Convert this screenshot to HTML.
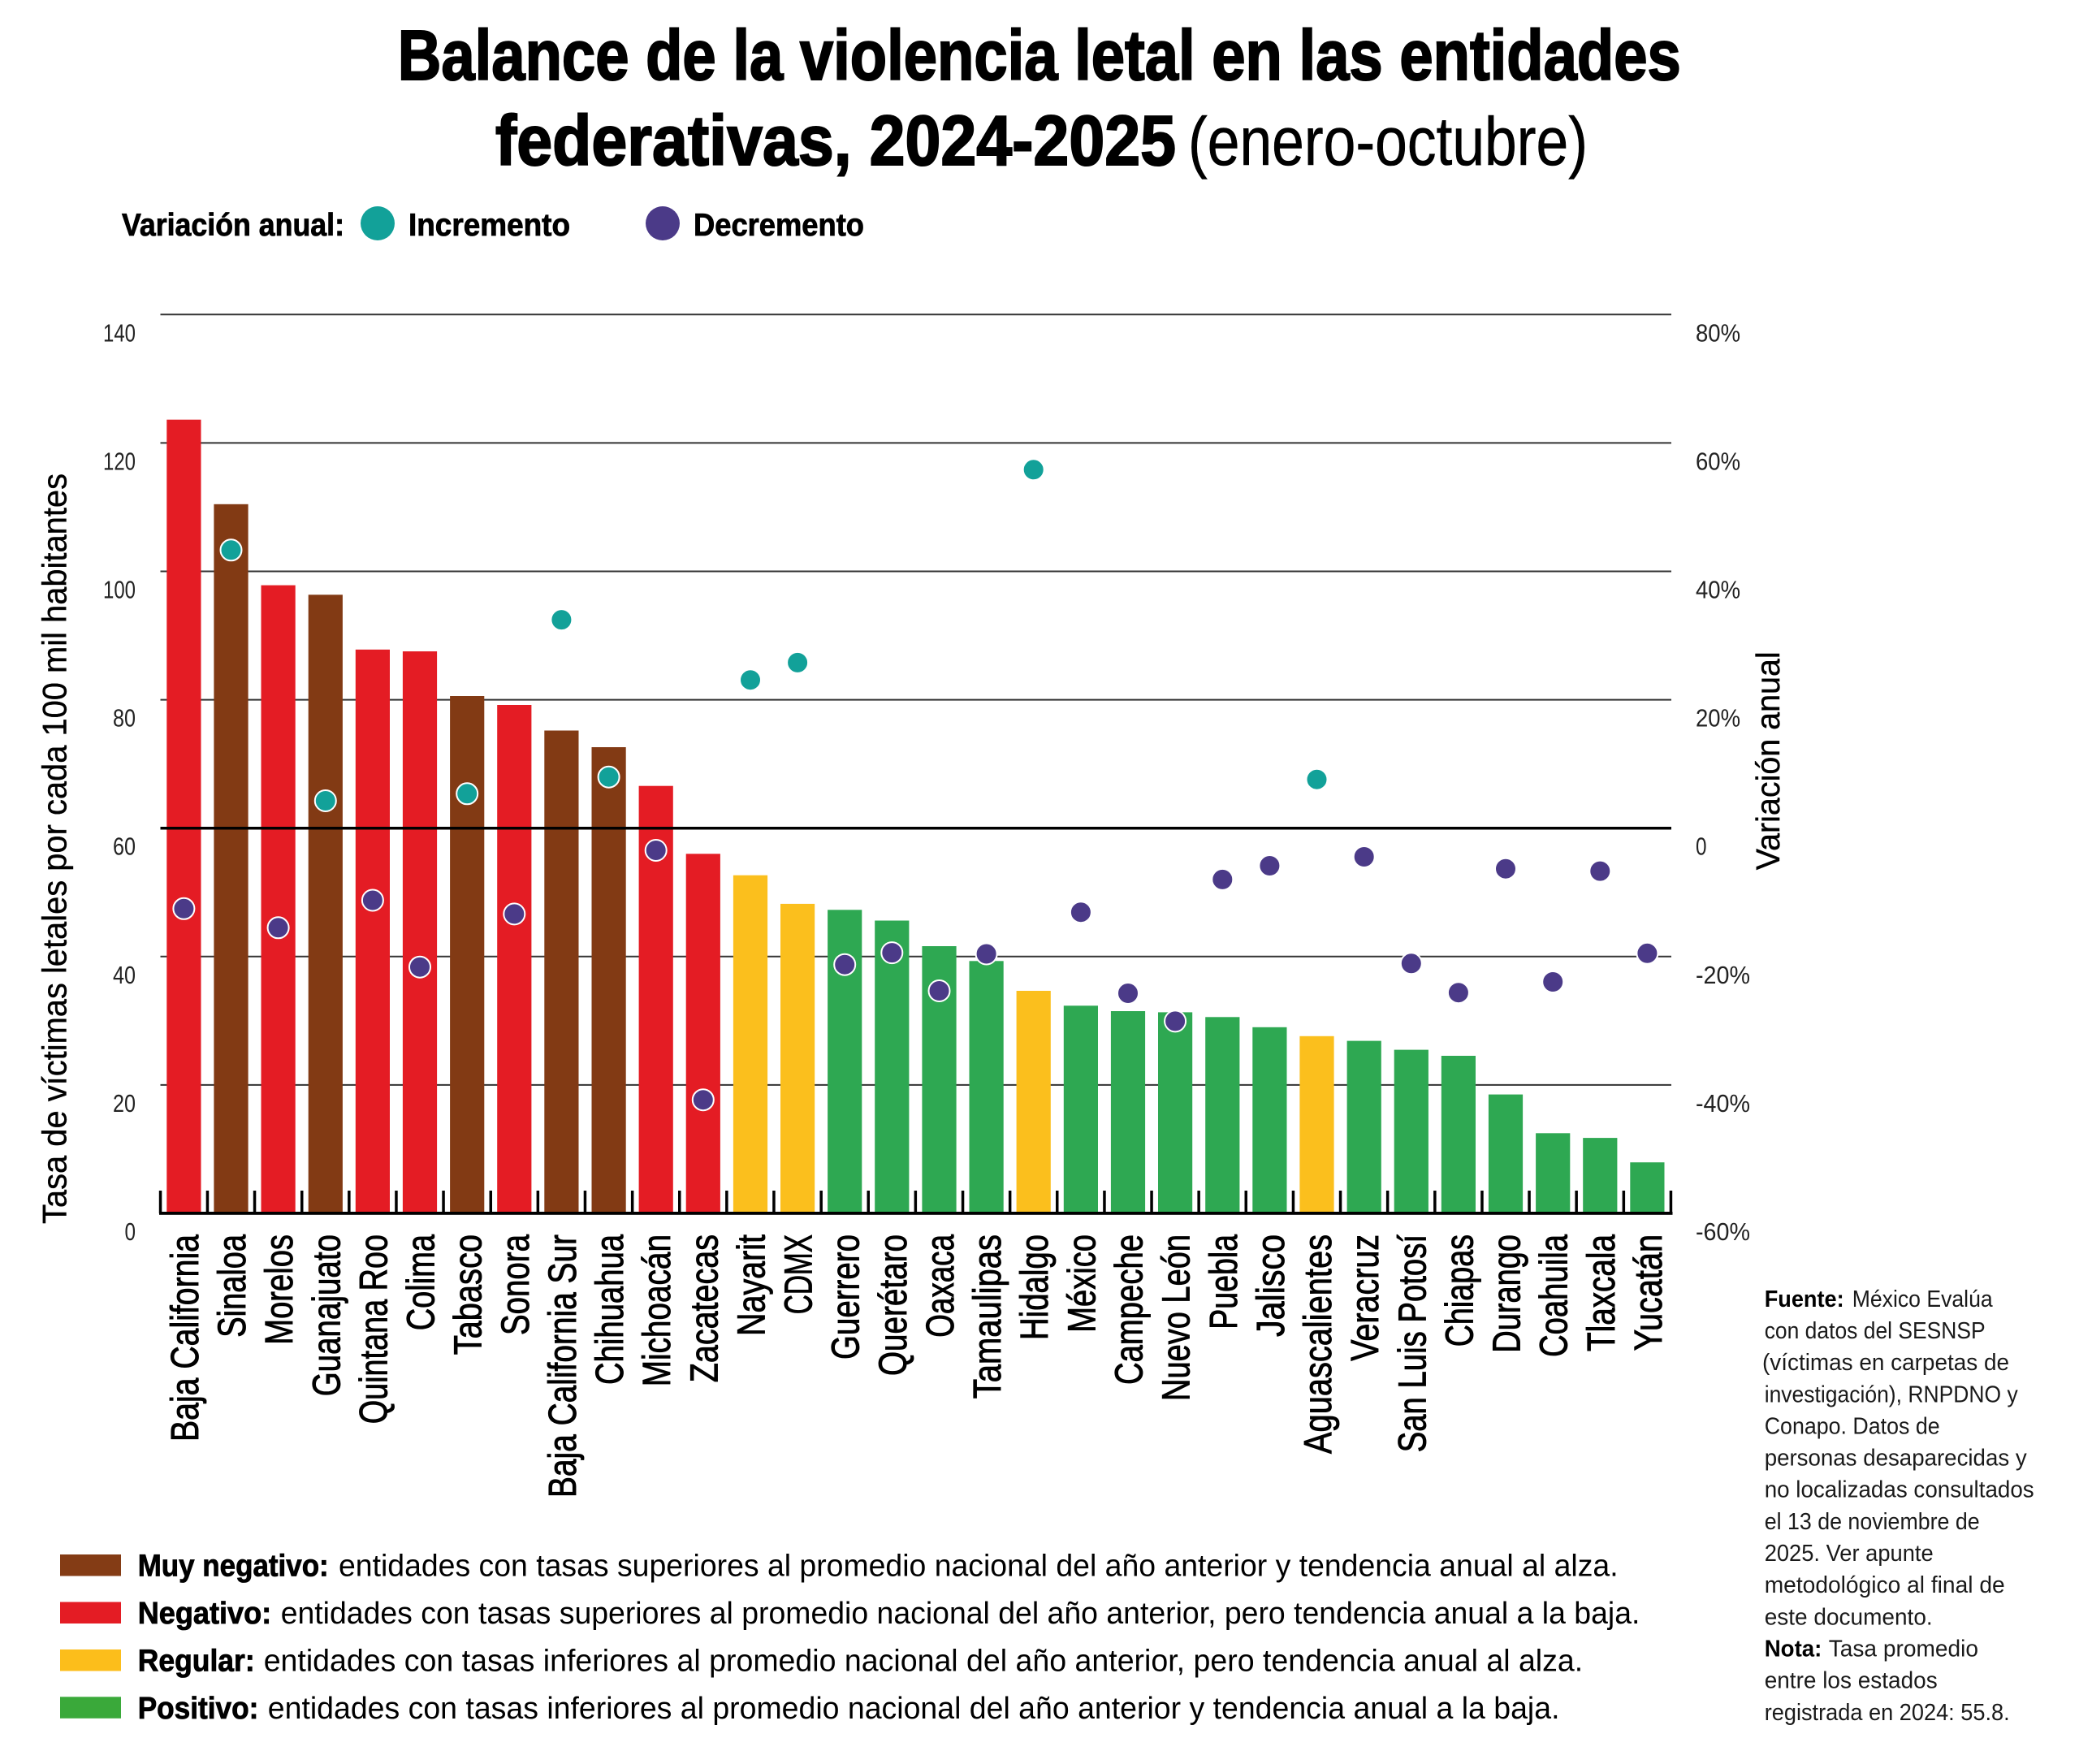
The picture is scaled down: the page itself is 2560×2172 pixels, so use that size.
<!DOCTYPE html>
<html>
<head>
<meta charset="utf-8">
<style>
  html, body { margin:0; padding:0; background:#fff; }
  body { width:2560px; height:2172px; overflow:hidden; }
  svg { display:block; }
  text { font-family: "Liberation Sans", "DejaVu Sans", sans-serif; }
</style>
</head>
<body>
<svg xmlns="http://www.w3.org/2000/svg" width="2560" height="2172" viewBox="0 0 2560 2172">
  <rect x="0" y="0" width="2560" height="2172" fill="#ffffff"/>

  <!-- Title -->
  <text x="489.8" y="98" font-size="87" font-weight="bold" fill="#000" stroke="#000" stroke-width="2" textLength="1580" lengthAdjust="spacingAndGlyphs">Balance de la violencia letal en las entidades</text>
  <text x="610" y="203" font-size="87" font-weight="bold" fill="#000" stroke="#000" stroke-width="2" textLength="838" lengthAdjust="spacingAndGlyphs">federativas, 2024-2025</text>
  <text x="1463" y="203" font-size="84" fill="#000" stroke="#000" stroke-width="0.6" textLength="492" lengthAdjust="spacingAndGlyphs">(enero-octubre)</text>

  <!-- Top legend -->
  <text x="150" y="290" font-size="39" font-weight="bold" fill="#000" stroke="#000" stroke-width="0.8" textLength="274" lengthAdjust="spacingAndGlyphs">Variación anual:</text>
  <circle cx="465" cy="275" r="21" fill="#12A199"/>
  <text x="503" y="290" font-size="39" font-weight="bold" fill="#000" stroke="#000" stroke-width="0.8" textLength="199" lengthAdjust="spacingAndGlyphs">Incremento</text>
  <circle cx="816" cy="275" r="21" fill="#4B3A88"/>
  <text x="854" y="290" font-size="39" font-weight="bold" fill="#000" stroke="#000" stroke-width="0.8" textLength="210" lengthAdjust="spacingAndGlyphs">Decremento</text>

  <!-- Gridlines (behind bars) -->
  <g stroke="#333" stroke-width="2">
    <line x1="197.5" y1="387.3" x2="2058" y2="387.3"/>
    <line x1="197.5" y1="545.4" x2="2058" y2="545.4"/>
    <line x1="197.5" y1="703.5" x2="2058" y2="703.5"/>
    <line x1="197.5" y1="861.6" x2="2058" y2="861.6"/>
    <line x1="197.5" y1="1177.8" x2="2058" y2="1177.8"/>
    <line x1="197.5" y1="1335.9" x2="2058" y2="1335.9"/>
  </g>

  <!-- Bars -->
  <g>
    <rect x="205.3" y="516.7" width="42.2" height="977.3" fill="#E41C24"/>
    <rect x="263.4" y="620.8" width="42.2" height="873.2" fill="#823A14"/>
    <rect x="321.5" y="720.6" width="42.2" height="773.4" fill="#E41C24"/>
    <rect x="379.7" y="732.3" width="42.2" height="761.7" fill="#823A14"/>
    <rect x="437.8" y="799.8" width="42.2" height="694.2" fill="#E41C24"/>
    <rect x="495.9" y="802.0" width="42.2" height="692.0" fill="#E41C24"/>
    <rect x="554.1" y="857.0" width="42.2" height="637.0" fill="#823A14"/>
    <rect x="612.2" y="868.0" width="42.2" height="626.0" fill="#E41C24"/>
    <rect x="670.3" y="899.5" width="42.2" height="594.5" fill="#823A14"/>
    <rect x="728.5" y="920.0" width="42.2" height="574.0" fill="#823A14"/>
    <rect x="786.6" y="967.7" width="42.2" height="526.3" fill="#E41C24"/>
    <rect x="844.7" y="1051.3" width="42.2" height="442.7" fill="#E41C24"/>
    <rect x="902.9" y="1077.7" width="42.2" height="416.3" fill="#FBBF1D"/>
    <rect x="961.0" y="1112.9" width="42.2" height="381.1" fill="#FBBF1D"/>
    <rect x="1019.1" y="1120.3" width="42.2" height="373.7" fill="#2EA852"/>
    <rect x="1077.2" y="1133.5" width="42.2" height="360.5" fill="#2EA852"/>
    <rect x="1135.4" y="1165.0" width="42.2" height="329.0" fill="#2EA852"/>
    <rect x="1193.5" y="1183.3" width="42.2" height="310.7" fill="#2EA852"/>
    <rect x="1251.6" y="1220.0" width="42.2" height="274.0" fill="#FBBF1D"/>
    <rect x="1309.8" y="1238.3" width="42.2" height="255.7" fill="#2EA852"/>
    <rect x="1367.9" y="1245.0" width="42.2" height="249.0" fill="#2EA852"/>
    <rect x="1426.0" y="1246.4" width="42.2" height="247.6" fill="#2EA852"/>
    <rect x="1484.2" y="1252.3" width="42.2" height="241.7" fill="#2EA852"/>
    <rect x="1542.3" y="1264.8" width="42.2" height="229.2" fill="#2EA852"/>
    <rect x="1600.4" y="1275.8" width="42.2" height="218.2" fill="#FBBF1D"/>
    <rect x="1658.6" y="1281.6" width="42.2" height="212.4" fill="#2EA852"/>
    <rect x="1716.7" y="1292.6" width="42.2" height="201.4" fill="#2EA852"/>
    <rect x="1774.8" y="1300.0" width="42.2" height="194.0" fill="#2EA852"/>
    <rect x="1832.9" y="1347.6" width="42.2" height="146.4" fill="#2EA852"/>
    <rect x="1891.1" y="1395.3" width="42.2" height="98.7" fill="#2EA852"/>
    <rect x="1949.2" y="1401.1" width="42.2" height="92.9" fill="#2EA852"/>
    <rect x="2007.3" y="1431.2" width="42.2" height="62.8" fill="#2EA852"/>
  </g>

  <!-- Zero line of right axis (on top of bars) -->
  <line x1="197.5" y1="1019.7" x2="2058" y2="1019.7" stroke="#000" stroke-width="3.5"/>

  <!-- Baseline and ticks -->
  <rect x="196" y="1492" width="1863.5" height="3.8" fill="#000"/>
  <g fill="#000">
    <rect x="195.8" y="1466" width="3.5" height="28"/>
    <rect x="253.7" y="1466" width="3.5" height="28"/>
    <rect x="311.8" y="1466" width="3.5" height="28"/>
    <rect x="370.0" y="1466" width="3.5" height="28"/>
    <rect x="428.1" y="1466" width="3.5" height="28"/>
    <rect x="486.2" y="1466" width="3.5" height="28"/>
    <rect x="544.3" y="1466" width="3.5" height="28"/>
    <rect x="602.5" y="1466" width="3.5" height="28"/>
    <rect x="660.6" y="1466" width="3.5" height="28"/>
    <rect x="718.7" y="1466" width="3.5" height="28"/>
    <rect x="776.9" y="1466" width="3.5" height="28"/>
    <rect x="835.0" y="1466" width="3.5" height="28"/>
    <rect x="893.1" y="1466" width="3.5" height="28"/>
    <rect x="951.2" y="1466" width="3.5" height="28"/>
    <rect x="1009.4" y="1466" width="3.5" height="28"/>
    <rect x="1067.5" y="1466" width="3.5" height="28"/>
    <rect x="1125.6" y="1466" width="3.5" height="28"/>
    <rect x="1183.8" y="1466" width="3.5" height="28"/>
    <rect x="1241.9" y="1466" width="3.5" height="28"/>
    <rect x="1300.0" y="1466" width="3.5" height="28"/>
    <rect x="1358.2" y="1466" width="3.5" height="28"/>
    <rect x="1416.3" y="1466" width="3.5" height="28"/>
    <rect x="1474.4" y="1466" width="3.5" height="28"/>
    <rect x="1532.5" y="1466" width="3.5" height="28"/>
    <rect x="1590.7" y="1466" width="3.5" height="28"/>
    <rect x="1648.8" y="1466" width="3.5" height="28"/>
    <rect x="1706.9" y="1466" width="3.5" height="28"/>
    <rect x="1765.1" y="1466" width="3.5" height="28"/>
    <rect x="1823.2" y="1466" width="3.5" height="28"/>
    <rect x="1881.3" y="1466" width="3.5" height="28"/>
    <rect x="1939.4" y="1466" width="3.5" height="28"/>
    <rect x="1997.6" y="1466" width="3.5" height="28"/>
    <rect x="2055.7" y="1466" width="3.5" height="28"/>
  </g>

  <!-- Dots -->
  <g stroke="#ffffff" stroke-width="2">
    <circle cx="226.4" cy="1118.8" r="13" fill="#4B3A88"/>
    <circle cx="284.5" cy="677.3" r="13" fill="#12A199"/>
    <circle cx="342.6" cy="1142.3" r="13" fill="#4B3A88"/>
    <circle cx="400.8" cy="986.0" r="13" fill="#12A199"/>
    <circle cx="458.9" cy="1108.5" r="13" fill="#4B3A88"/>
    <circle cx="517.0" cy="1190.7" r="13" fill="#4B3A88"/>
    <circle cx="575.2" cy="977.3" r="13" fill="#12A199"/>
    <circle cx="633.3" cy="1125.4" r="13" fill="#4B3A88"/>
    <circle cx="691.4" cy="763.1" r="13" fill="#12A199"/>
    <circle cx="749.6" cy="956.7" r="13" fill="#12A199"/>
    <circle cx="807.7" cy="1047.0" r="13" fill="#4B3A88"/>
    <circle cx="865.8" cy="1354.2" r="13" fill="#4B3A88"/>
    <circle cx="924.0" cy="837.2" r="13" fill="#12A199"/>
    <circle cx="982.1" cy="815.9" r="13" fill="#12A199"/>
    <circle cx="1040.2" cy="1187.7" r="13" fill="#4B3A88"/>
    <circle cx="1098.3" cy="1173.1" r="13" fill="#4B3A88"/>
    <circle cx="1156.5" cy="1220.0" r="13" fill="#4B3A88"/>
    <circle cx="1214.6" cy="1174.5" r="13" fill="#4B3A88"/>
    <circle cx="1272.7" cy="578.3" r="13" fill="#12A199"/>
    <circle cx="1330.9" cy="1123.2" r="13" fill="#4B3A88"/>
    <circle cx="1389.0" cy="1223.0" r="13" fill="#4B3A88"/>
    <circle cx="1447.1" cy="1257.4" r="13" fill="#4B3A88"/>
    <circle cx="1505.3" cy="1082.9" r="13" fill="#4B3A88"/>
    <circle cx="1563.4" cy="1066.0" r="13" fill="#4B3A88"/>
    <circle cx="1621.5" cy="959.7" r="13" fill="#12A199"/>
    <circle cx="1679.7" cy="1055.0" r="13" fill="#4B3A88"/>
    <circle cx="1737.8" cy="1186.3" r="13" fill="#4B3A88"/>
    <circle cx="1795.9" cy="1222.2" r="13" fill="#4B3A88"/>
    <circle cx="1854.0" cy="1069.7" r="13" fill="#4B3A88"/>
    <circle cx="1912.2" cy="1209.0" r="13" fill="#4B3A88"/>
    <circle cx="1970.3" cy="1072.6" r="13" fill="#4B3A88"/>
    <circle cx="2028.4" cy="1173.8" r="13" fill="#4B3A88"/>
  </g>

  <!-- Left axis labels -->
  <g font-size="31" fill="#222" text-anchor="end">
    <text x="167" y="420.3" textLength="40" lengthAdjust="spacingAndGlyphs">140</text>
    <text x="167" y="578.4" textLength="40" lengthAdjust="spacingAndGlyphs">120</text>
    <text x="167" y="736.5" textLength="40" lengthAdjust="spacingAndGlyphs">100</text>
    <text x="167" y="894.6" textLength="28" lengthAdjust="spacingAndGlyphs">80</text>
    <text x="167" y="1052.7" textLength="28" lengthAdjust="spacingAndGlyphs">60</text>
    <text x="167" y="1210.8" textLength="28" lengthAdjust="spacingAndGlyphs">40</text>
    <text x="167" y="1368.9" textLength="28" lengthAdjust="spacingAndGlyphs">20</text>
    <text x="167" y="1527" textLength="13.5" lengthAdjust="spacingAndGlyphs">0</text>
  </g>

  <!-- Right axis labels -->
  <g font-size="31" fill="#222">
    <text x="2088" y="420.3" textLength="55" lengthAdjust="spacingAndGlyphs">80%</text>
    <text x="2088" y="578.4" textLength="55" lengthAdjust="spacingAndGlyphs">60%</text>
    <text x="2088" y="736.5" textLength="55" lengthAdjust="spacingAndGlyphs">40%</text>
    <text x="2088" y="894.6" textLength="55" lengthAdjust="spacingAndGlyphs">20%</text>
    <text x="2088" y="1052.7" textLength="13.5" lengthAdjust="spacingAndGlyphs">0</text>
    <text x="2088" y="1210.8" textLength="67" lengthAdjust="spacingAndGlyphs">-20%</text>
    <text x="2088" y="1368.9" textLength="67" lengthAdjust="spacingAndGlyphs">-40%</text>
    <text x="2088" y="1527" textLength="67" lengthAdjust="spacingAndGlyphs">-60%</text>
  </g>

  <!-- Axis titles -->
  <text transform="translate(81.7,1507) rotate(-90)" font-size="42" fill="#000" stroke="#000" stroke-width="0.4" textLength="924" lengthAdjust="spacingAndGlyphs">Tasa de víctimas letales por cada 100 mil habitantes</text>
  <text transform="translate(2191,1071.3) rotate(-90)" font-size="41" fill="#000" stroke="#000" stroke-width="0.4" textLength="269" lengthAdjust="spacingAndGlyphs">Variación anual</text>

  <!-- X labels -->
  <g font-size="48" fill="#000" stroke="#000" stroke-width="0.9" text-anchor="end">
    <text transform="translate(243.9,1520) rotate(-90)" textLength="255" lengthAdjust="spacingAndGlyphs">Baja California</text>
    <text transform="translate(302.0,1520) rotate(-90)" textLength="126.7" lengthAdjust="spacingAndGlyphs">Sinaloa</text>
    <text transform="translate(360.1,1520) rotate(-90)" textLength="135.7" lengthAdjust="spacingAndGlyphs">Morelos</text>
    <text transform="translate(418.3,1520) rotate(-90)" textLength="199.3" lengthAdjust="spacingAndGlyphs">Guanajuato</text>
    <text transform="translate(476.4,1520) rotate(-90)" textLength="233.3" lengthAdjust="spacingAndGlyphs">Quintana Roo</text>
    <text transform="translate(534.5,1520) rotate(-90)" textLength="118.3" lengthAdjust="spacingAndGlyphs">Colima</text>
    <text transform="translate(592.7,1520) rotate(-90)" textLength="148.3" lengthAdjust="spacingAndGlyphs">Tabasco</text>
    <text transform="translate(650.8,1520) rotate(-90)" textLength="124" lengthAdjust="spacingAndGlyphs">Sonora</text>
    <text transform="translate(708.9,1520) rotate(-90)" textLength="324" lengthAdjust="spacingAndGlyphs">Baja California Sur</text>
    <text transform="translate(767.1,1520) rotate(-90)" textLength="185" lengthAdjust="spacingAndGlyphs">Chihuahua</text>
    <text transform="translate(825.2,1520) rotate(-90)" textLength="187.3" lengthAdjust="spacingAndGlyphs">Michoacán</text>
    <text transform="translate(883.3,1520) rotate(-90)" textLength="182.3" lengthAdjust="spacingAndGlyphs">Zacatecas</text>
    <text transform="translate(941.5,1520) rotate(-90)" textLength="125" lengthAdjust="spacingAndGlyphs">Nayarit</text>
    <text transform="translate(999.6,1520) rotate(-90)" textLength="98.3" lengthAdjust="spacingAndGlyphs">CDMX</text>
    <text transform="translate(1057.7,1520) rotate(-90)" textLength="154" lengthAdjust="spacingAndGlyphs">Guerrero</text>
    <text transform="translate(1115.8,1520) rotate(-90)" textLength="174" lengthAdjust="spacingAndGlyphs">Querétaro</text>
    <text transform="translate(1174.0,1520) rotate(-90)" textLength="126.7" lengthAdjust="spacingAndGlyphs">Oaxaca</text>
    <text transform="translate(1232.1,1520) rotate(-90)" textLength="202.3" lengthAdjust="spacingAndGlyphs">Tamaulipas</text>
    <text transform="translate(1290.2,1520) rotate(-90)" textLength="130" lengthAdjust="spacingAndGlyphs">Hidalgo</text>
    <text transform="translate(1348.4,1520) rotate(-90)" textLength="120.7" lengthAdjust="spacingAndGlyphs">México</text>
    <text transform="translate(1406.5,1520) rotate(-90)" textLength="185" lengthAdjust="spacingAndGlyphs">Campeche</text>
    <text transform="translate(1464.6,1520) rotate(-90)" textLength="205" lengthAdjust="spacingAndGlyphs">Nuevo León</text>
    <text transform="translate(1522.8,1520) rotate(-90)" textLength="116.7" lengthAdjust="spacingAndGlyphs">Puebla</text>
    <text transform="translate(1580.9,1520) rotate(-90)" textLength="126" lengthAdjust="spacingAndGlyphs">Jalisco</text>
    <text transform="translate(1639.0,1520) rotate(-90)" textLength="270" lengthAdjust="spacingAndGlyphs">Aguascalientes</text>
    <text transform="translate(1697.2,1520) rotate(-90)" textLength="155.7" lengthAdjust="spacingAndGlyphs">Veracruz</text>
    <text transform="translate(1755.3,1520) rotate(-90)" textLength="268.3" lengthAdjust="spacingAndGlyphs">San Luis Potosí</text>
    <text transform="translate(1813.4,1520) rotate(-90)" textLength="138.3" lengthAdjust="spacingAndGlyphs">Chiapas</text>
    <text transform="translate(1871.5,1520) rotate(-90)" textLength="145.7" lengthAdjust="spacingAndGlyphs">Durango</text>
    <text transform="translate(1929.7,1520) rotate(-90)" textLength="151" lengthAdjust="spacingAndGlyphs">Coahuila</text>
    <text transform="translate(1987.8,1520) rotate(-90)" textLength="144" lengthAdjust="spacingAndGlyphs">Tlaxcala</text>
    <text transform="translate(2045.9,1520) rotate(-90)" textLength="143.3" lengthAdjust="spacingAndGlyphs">Yucatán</text>
  </g>

  <!-- Bottom legend -->
  <rect x="74" y="1914" width="75" height="26.5" fill="#843C15"/>
  <rect x="74" y="1972.5" width="75" height="26.5" fill="#E41C24"/>
  <rect x="74" y="2031" width="75" height="26.5" fill="#FCBE1B"/>
  <rect x="74" y="2089.3" width="75" height="26.5" fill="#3AA93A"/>
  <g font-size="38" fill="#000">
    <text x="169.7" y="1940.5" font-weight="bold" stroke="#000" stroke-width="0.8" textLength="235" lengthAdjust="spacingAndGlyphs">Muy negativo:</text>
    <text x="417" y="1940.5" textLength="1575.6" lengthAdjust="spacingAndGlyphs">entidades con tasas superiores al promedio nacional del año anterior y tendencia anual al alza.</text>
    <text x="169.7" y="1999" font-weight="bold" stroke="#000" stroke-width="0.8" textLength="164.5" lengthAdjust="spacingAndGlyphs">Negativo:</text>
    <text x="345.7" y="1999" textLength="1673.7" lengthAdjust="spacingAndGlyphs">entidades con tasas superiores al promedio nacional del año anterior, pero tendencia anual a la baja.</text>
    <text x="169.7" y="2057.5" font-weight="bold" stroke="#000" stroke-width="0.8" textLength="144" lengthAdjust="spacingAndGlyphs">Regular:</text>
    <text x="324.7" y="2057.5" textLength="1624.5" lengthAdjust="spacingAndGlyphs">entidades con tasas inferiores al promedio nacional del año anterior, pero tendencia anual al alza.</text>
    <text x="169.7" y="2115.8" font-weight="bold" stroke="#000" stroke-width="0.8" textLength="148.6" lengthAdjust="spacingAndGlyphs">Positivo:</text>
    <text x="329.8" y="2115.8" textLength="1590.7" lengthAdjust="spacingAndGlyphs">entidades con tasas inferiores al promedio nacional del año anterior y tendencia anual a la baja.</text>
  </g>

  <!-- Source note -->
  <g font-size="29" fill="#1a1a1a">
    <text x="2172.7" y="1608.8" font-weight="bold" fill="#000" textLength="98" lengthAdjust="spacingAndGlyphs">Fuente:</text>
    <text x="2280.7" y="1608.8" textLength="173" lengthAdjust="spacingAndGlyphs">México Evalúa</text>
    <text x="2172.7" y="1648.0" textLength="272" lengthAdjust="spacingAndGlyphs">con datos del SESNSP</text>
    <text x="2170" y="1687.1" textLength="304" lengthAdjust="spacingAndGlyphs">(víctimas en carpetas de</text>
    <text x="2172.7" y="1726.3" textLength="312" lengthAdjust="spacingAndGlyphs">investigación), RNPDNO y</text>
    <text x="2172.7" y="1765.4" textLength="216" lengthAdjust="spacingAndGlyphs">Conapo. Datos de</text>
    <text x="2172.7" y="1804.6" textLength="323" lengthAdjust="spacingAndGlyphs">personas desaparecidas y</text>
    <text x="2172.7" y="1843.7" textLength="332" lengthAdjust="spacingAndGlyphs">no localizadas consultados</text>
    <text x="2172.7" y="1882.9" textLength="265" lengthAdjust="spacingAndGlyphs">el 13 de noviembre de</text>
    <text x="2172.7" y="1922.0" textLength="208" lengthAdjust="spacingAndGlyphs">2025. Ver apunte</text>
    <text x="2172.7" y="1961.2" textLength="296" lengthAdjust="spacingAndGlyphs">metodológico al final de</text>
    <text x="2172.7" y="2000.3" textLength="207" lengthAdjust="spacingAndGlyphs">este documento.</text>
    <text x="2172.7" y="2039.5" font-weight="bold" fill="#000" textLength="70.7" lengthAdjust="spacingAndGlyphs">Nota:</text>
    <text x="2251.7" y="2039.5" textLength="184.3" lengthAdjust="spacingAndGlyphs">Tasa promedio</text>
    <text x="2172.7" y="2078.6" textLength="213" lengthAdjust="spacingAndGlyphs">entre los estados</text>
    <text x="2172.7" y="2117.8" textLength="302" lengthAdjust="spacingAndGlyphs">registrada en 2024: 55.8.</text>
  </g>
</svg>
</body>
</html>
